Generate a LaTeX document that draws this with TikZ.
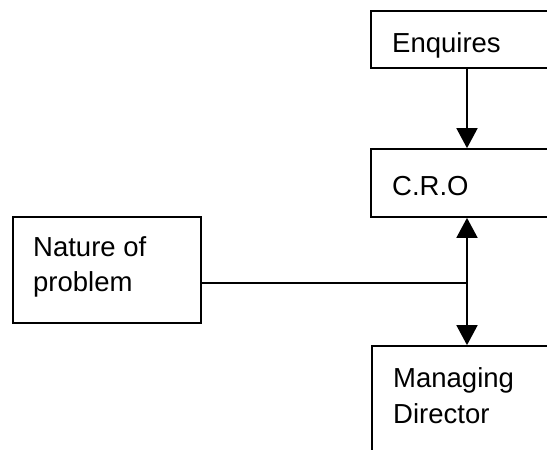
\documentclass[tikz,border=0pt]{standalone}
\usepackage{fontspec}
\setmainfont{Liberation Sans}
\usetikzlibrary{arrows.meta}
\begin{document}
\begin{tikzpicture}[x=1pt,y=-1pt,
  box/.style={draw, line width=1.7pt, rectangle, inner sep=0pt},
  lbl/.style={inner sep=0pt, anchor=base west, font=\fontsize{27.5}{35}\selectfont},
  link/.style={line width=1.7pt},
  tip/.style={-{Triangle[length=20pt,width=21pt]}}]
  % page frame; boxes run past the right and bottom edges
  \path[use as bounding box] (0,0) rectangle (547,450);
  \clip (0,0) rectangle (547,450);

  % boxes
  \node[box, minimum width=189pt, minimum height=57pt] (enq) at (465.5,39.5) {};
  \node[box, minimum width=189pt, minimum height=68pt] (cro) at (465.5,183) {};
  \node[box, minimum width=188pt, minimum height=106pt] (nat) at (107,270) {};
  \node[box, minimum width=188pt, minimum height=124pt] (md) at (466,408) {};

  % labels
  \node[lbl] (enqt) at (392,52) {Enquires};
  \node[lbl] (crot) at (392,195) {C.R.O};
  \node[lbl] (nat1) at (33,256) {Nature of};
  \node[lbl] (nat2) at (33,291) {problem};
  \node[lbl] (md1) at (393,387) {Managing};
  \node[lbl] (md2) at (393,423) {Director};

  % connectors
  \coordinate (j) at (467,283);
  \draw[link, tip] (enq.south -| j) -- (cro.north -| j);
  \draw[link] (j -| nat.east) -- (j);
  \draw[link, tip] (j) -- (cro.south -| j);
  \draw[link, tip] (j) -- (md.north -| j);
\end{tikzpicture}
\end{document}
